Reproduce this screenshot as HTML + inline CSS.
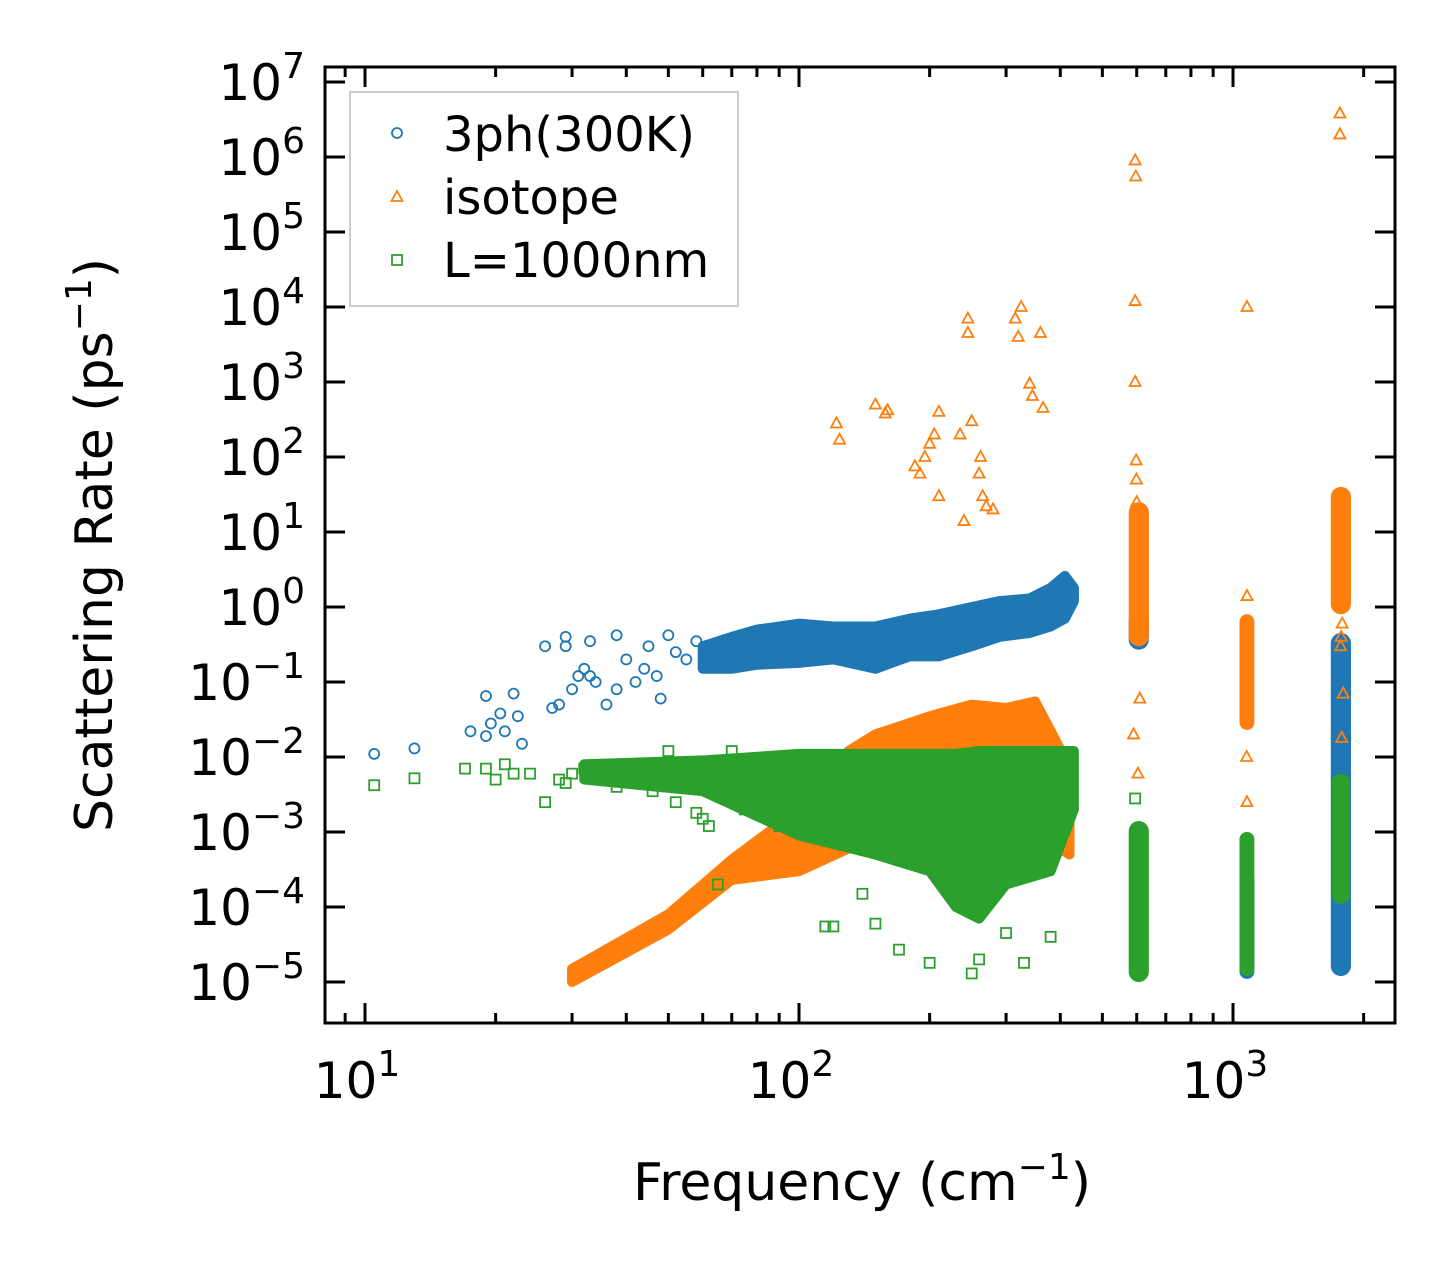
<!DOCTYPE html>
<html><head><meta charset="utf-8"><style>
html,body{margin:0;padding:0;background:#fff;}
svg{display:block;font-family:"DejaVu Sans","Liberation Sans",sans-serif;}
</style></head><body>
<svg id="chart" width="1455" height="1273" viewBox="0 0 1455 1273" xmlns="http://www.w3.org/2000/svg">
<rect width="1455" height="1273" fill="#fff"/>
<g id="marks"></g>
<g id="axes"></g>
<text x="862" y="1200" font-size="52" text-anchor="middle">Frequency (cm<tspan dy="-21" font-size="36">−1</tspan><tspan dy="21">)</tspan></text>
<text transform="translate(112,545) rotate(-90)" font-size="52" text-anchor="middle">Scattering Rate (ps<tspan dy="-21" font-size="36">−1</tspan><tspan dy="21">)</tspan></text>
<g>
<rect x="350" y="92" width="388" height="214" fill="#fff" stroke="#ccc" stroke-width="2"/>
<g><circle cx="397" cy="133" r="5" fill="none" stroke="#1f77b4" stroke-width="1.8"/><text x="443" y="151" font-size="48">3ph(300K)</text></g>
<g><polygon points="397,191 402.5,201 391.5,201" fill="none" stroke="#ff7f0e" stroke-width="1.8"/><text x="443" y="214" font-size="48">isotope</text></g>
<g><rect x="392" y="255" width="10" height="10" fill="none" stroke="#2ca02c" stroke-width="1.8"/><text x="443" y="277" font-size="48">L=1000nm</text></g>
</g>
</svg>
<script>
// axis domains
const xDecades = [1, 2, 3];
const yDecades = [-5,-4,-3,-2,-1,0,1,2,3,4,5,6,7];
// blue (3ph) sparse points
const blueF = [10.5,13,17.5,19,19.5,19,20.5,21,22,22.5,23,26,27,28,29,29,30,31,32,33,33,34,36,38,38,40,42,45,48,50,55,44,47,52,58];
const blueR = [0.011,0.013,0.022,0.065,0.028,0.019,0.038,0.022,0.07,0.035,0.015,0.3,0.045,0.05,0.4,0.3,0.08,0.12,0.15,0.35,0.12,0.1,0.05,0.08,0.42,0.2,0.1,0.3,0.06,0.42,0.2,0.15,0.12,0.25,0.35];
// blue dense band
const blueBandF = [60,70,80,100,120,150,180,210,250,290,340,380,410,430];
const blueBandLo = [0.15,0.15,0.17,0.18,0.2,0.15,0.22,0.22,0.3,0.4,0.45,0.55,0.7,1.2];
const blueBandHi = [0.3,0.4,0.5,0.6,0.55,0.55,0.7,0.8,1.0,1.2,1.3,1.8,2.6,1.8];
// orange (isotope) sparse
const orF = [122,124,150,158,160,185,190,195,200,205,210,210,235,240,245,245,250,260,262,265,270,280,315,320,325,340,345,360,365,595,597,595,595,598,599,600,590,604,610,1077,1077,1075,1077,1763,1763,1790,1785,1775,1770,1795,1780];
const orR = [280,170,500,380,420,75,60,100,150,200,400,30,200,14,7000,4500,300,60,100,30,22,20,7000,4000,10000,950,650,4500,450,900000,550000,12000,1000,90,50,25,0.02,0.006,0.06,10000,1.4,0.01,0.0025,3.8e6,2e6,1.2,0.6,0.4,0.3,0.07,0.018];
// orange dense band
const orBandF = [30,50,70,100,130,150,200,250,300,350,420];
const orBandLo = [1e-5,5e-5,2.3e-4,3e-4,6e-4,1e-3,1e-3,1e-3,1e-3,1e-3,5e-4];
const orBandHi = [1.5e-5,8e-5,4.3e-4,2e-3,0.012,0.02,0.035,0.05,0.045,0.055,0.0074];
// green (L=1000nm) sparse
const grF = [10.5,13,17,19,20,21,22,24,26,28,29,30,32,34,36,38,40,44,46,48,50,52,55,58,60,62,65,70,75,80,85,90,115,120,140,150,170,200,250,260,300,330,380,595];
const grR = [0.0042,0.0052,0.007,0.007,0.005,0.008,0.006,0.006,0.0025,0.005,0.0045,0.006,0.007,0.007,0.006,0.004,0.007,0.006,0.0035,0.005,0.012,0.0025,0.007,0.0018,0.0015,0.0012,0.0002,0.012,0.002,0.003,0.0016,0.0012,5.5e-5,5.5e-5,1.5e-4,6e-5,2.7e-5,1.8e-5,1.3e-5,2e-5,4.5e-5,1.8e-5,4e-5,0.0028];
// green dense band
const grBandF = [32,60,100,150,200,230,260,300,380,430];
const grBandLo = [0.005,0.0035,0.0009,0.0005,0.0003,0.0001,0.00007,0.0002,0.0003,0.002];
const grBandHi = [0.008,0.009,0.011,0.011,0.011,0.011,0.012,0.012,0.012,0.012];
// vertical columns: [freqLow, freqHigh, rateLow, rateHigh]
const blueCols = [[575,640,0.27,0.9],[1035,1120,1.1e-5,3e-4],[1680,1870,1.2e-5,0.45]];
const orCols = [[575,640,0.3,25],[1035,1120,0.023,0.8],[1680,1870,0.8,40]];
const grCols = [[575,640,1e-5,1.4e-3],[1035,1120,1.2e-5,1e-3],[1690,1860,1.1e-4,6e-3]];

const X0=365, XD=434, Y0=982, YD=75;
const L=325,R=1395,T=67,B=1023;
function xs(f){return X0+(Math.log10(f)-1)*XD;}
function ys(r){return Y0-(Math.log10(r)+5)*YD;}
const NS='http://www.w3.org/2000/svg';
const marks=document.getElementById('marks'), axes=document.getElementById('axes');
function mk(tag,attrs,parent){const e=document.createElementNS(NS,tag);for(const k in attrs)e.setAttribute(k,attrs[k]);parent.appendChild(e);return e;}
const C={b:'#1f77b4',o:'#ff7f0e',g:'#2ca02c'};
function band(F,lo,hi,col,name){
  const pts=[];F.forEach((f,i)=>pts.push(xs(f)+','+ys(hi[i])));
  for(let i=F.length-1;i>=0;i--)pts.push(xs(F[i])+','+ys(lo[i]));
  const p=mk('polygon',{points:pts.join(' '),fill:col,stroke:col,'stroke-width':10,'stroke-linejoin':'round'},marks);
  
  
}
function cols(arr,col,name){arr.forEach(c=>{
  const x1=xs(c[0]),x2=xs(c[1]);
  const r=mk('rect',{x:x1,y:ys(c[3]),width:x2-x1,height:ys(c[2])-ys(c[3]),rx:(x2-x1)/2,fill:col},marks);
  
  
});}
function pts(F,Rr,col,shape,name){F.forEach((f,i)=>{
  const x=xs(f),y=ys(Rr[i]);let e;
  if(shape==='c')e=mk('circle',{cx:x,cy:y,r:5,fill:'none',stroke:col,'stroke-width':1.8},marks);
  else if(shape==='t')e=mk('polygon',{points:`${x},${y-6} ${x+5.5},${y+4} ${x-5.5},${y+4}`,fill:'none',stroke:col,'stroke-width':1.8},marks);
  else e=mk('rect',{x:x-5,y:y-5,width:10,height:10,fill:'none',stroke:col,'stroke-width':1.8},marks);
  
  
});}
band(blueBandF,blueBandLo,blueBandHi,C.b,'3ph-band');
pts(blueF,blueR,C.b,'c','3ph-point');
cols(blueCols,C.b,'3ph-column');
band(orBandF,orBandLo,orBandHi,C.o,'isotope-band');
cols(orCols,C.o,'isotope-column');
pts(orF,orR,C.o,'t','isotope-point');
band(grBandF,grBandLo,grBandHi,C.g,'boundary-band');
cols(grCols,C.g,'boundary-column');
pts(grF,grR,C.g,'s','boundary-point');

// frame
const fr=mk('rect',{x:L,y:T,width:R-L,height:B-T,fill:'none',stroke:'#000','stroke-width':3},axes);


// x ticks
for(let d=0;d<=3;d++){for(let m=1;m<10;m++){
  const f=m*Math.pow(10,d);const x=xs(f);if(x<L||x>R)continue;
  const len=m===1?20:10;
  mk('line',{x1:x,y1:B,x2:x,y2:B-len,stroke:'#000','stroke-width':3},axes);
  mk('line',{x1:x,y1:T,x2:x,y2:T+len,stroke:'#000','stroke-width':3},axes);
}}
xDecades.forEach(d=>{
  const t=mk('text',{x:xs(Math.pow(10,d))-8,y:1098,'font-size':50,'text-anchor':'middle'},axes);
  
  
  t.innerHTML='10<tspan dy="-22" font-size="36">'+d+'</tspan>';
});
yDecades.forEach(d=>{
  const y=ys(Math.pow(10,d));
  mk('line',{x1:L,y1:y,x2:L+20,y2:y,stroke:'#000','stroke-width':3},axes);
  mk('line',{x1:R,y1:y,x2:R-20,y2:y,stroke:'#000','stroke-width':3},axes);
  const t=mk('text',{x:305,y:y+18,'font-size':50,'text-anchor':'end'},axes);
  
  
  t.innerHTML='10<tspan dy="-22" font-size="36">'+(d<0?'−'+(-d):d)+'</tspan>';
});
</script>
</body></html>
